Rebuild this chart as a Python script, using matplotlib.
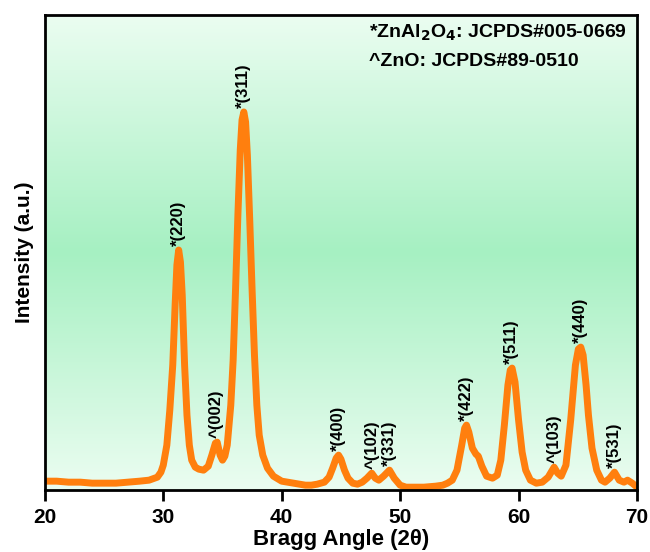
import numpy as np
import matplotlib.pyplot as plt
from matplotlib.colors import LinearSegmentedColormap

plt.rcParams["font.family"] = ["Liberation Sans", "DejaVu Sans"]

# ---- XRD pattern (2theta, intensity a.u.)
two_theta = [
    20.0, 21.0, 22.0, 23.0, 24.0, 25.0, 26.0, 27.0, 28.0, 28.8, 29.5, 29.8,
    30.0, 30.3, 30.55, 30.8, 31.0, 31.15, 31.3, 31.45, 31.6, 31.8, 32.0, 32.2,
    32.4, 32.7, 33.0, 33.4, 33.8, 34.1, 34.4, 34.55, 34.8, 35.0, 35.2, 35.4,
    35.7, 35.9, 36.1, 36.3, 36.5, 36.65, 36.8, 36.95, 37.1, 37.3, 37.5, 37.7,
    37.9, 38.1, 38.4, 38.8, 39.3, 40.0, 41.0, 42.0, 42.5, 43.0, 43.6, 44.0,
    44.3, 44.6, 44.8, 45.0, 45.3, 45.6, 46.0, 46.4, 46.8, 47.2, 47.6, 47.9,
    48.2, 48.6, 49.1, 49.5, 50.0, 50.5, 51.0, 52.0, 53.0, 53.6, 54.0, 54.4,
    54.8, 55.2, 55.45, 55.6, 55.8, 56.1, 56.4, 56.6, 56.9, 57.3, 57.8, 58.2,
    58.5, 58.8, 59.1, 59.3, 59.45, 59.7, 60.0, 60.3, 60.6, 61.0, 61.5, 62.0,
    62.5, 62.8, 63.0, 63.3, 63.6, 64.0, 64.4, 64.8, 65.05, 65.25, 65.45, 65.7,
    65.9, 66.2, 66.6, 67.0, 67.3, 67.7, 68.1, 68.5, 68.9, 69.2, 69.6, 70.0,
]
intensity = [
    9, 9, 8, 8, 7, 7, 7, 8, 9, 10, 13, 18,
    25, 45, 80, 125, 185, 225, 240, 228, 195, 125, 75, 45,
    30, 23, 21, 20, 24, 35, 47, 48, 35, 30, 34, 45,
    85, 130, 200, 275, 340, 370, 378, 368, 335, 270, 200, 135,
    85, 55, 35, 22, 14, 9, 7, 5, 5, 6, 8, 13,
    22, 32, 35, 31, 20, 12, 7, 6, 8, 12, 17, 12,
    10, 14, 20, 12, 5, 3, 3, 3, 4, 5, 7, 10,
    20, 45, 62, 65, 58, 42, 36, 34, 24, 14, 12, 15,
    30, 65, 105, 120, 122, 108, 70, 38, 20, 10, 7, 8,
    13, 19, 23, 17, 14, 25, 70, 125, 141, 143, 135, 105,
    75, 42, 20, 10, 8, 12, 18, 10, 8, 10, 7, 3,
]

# ---- peak assignments
peak_labels = ["*(220)", "^(002)", "*(311)", "*(400)", "^(102)", "*(331)",
               "*(422)", "*(511)", "^(103)", "*(440)", "*(531)"]
peak_pos = [31.3, 34.5, 36.8, 44.8, 47.6, 49.1, 55.6, 59.4, 63.0, 65.25, 68.1]
peak_int = [240, 48, 378, 35, 17, 20, 65, 122, 23, 143, 18]

x_ticks = [20, 30, 40, 50, 60, 70]

fig = plt.figure(figsize=(6.5, 5.52), dpi=100)
ax = fig.add_axes([0.069, 0.112, 0.911, 0.861])

# green gradient background
cmap = LinearSegmentedColormap.from_list("bg", ["#ebfdf1", "#a6f0c2", "#ebfdf1"])
ax.imshow(np.linspace(0, 1, 256).reshape(-1, 1), cmap=cmap, aspect="auto",
          extent=[20, 70, 0, 475], origin="lower", zorder=0)

ax.plot(two_theta, intensity, color="#ff7f0e", lw=5,
        solid_joinstyle="round", solid_capstyle="round", zorder=2)

for lab, px, py in zip(peak_labels, peak_pos, peak_int):
    ax.annotate(lab, (px, py), xytext=(0, 3), textcoords="offset points",
                rotation=90, ha="center", va="bottom", fontsize=12,
                fontweight="bold", zorder=3)

ax.text(0.547, 0.962, "*ZnAl$_\\mathbf{2}$O$_\\mathbf{4}$: JCPDS#005-0669",
        transform=ax.transAxes, fontsize=14, fontweight="bold", va="center")
ax.text(0.547, 0.901, "^ZnO: JCPDS#89-0510",
        transform=ax.transAxes, fontsize=14, fontweight="bold", va="center")

ax.set_xlim(20, 70)
ax.set_ylim(0, 475)
ax.set_xticks(x_ticks)
ax.set_yticks([])
ax.tick_params(axis="x", direction="out", length=8, width=2, labelsize=15, pad=5)
for lbl in ax.get_xticklabels():
    lbl.set_fontweight("bold")
for sp in ax.spines.values():
    sp.set_linewidth(2)

ax.set_xlabel("Bragg Angle (2θ)", fontsize=16, fontweight="bold", labelpad=1)
ax.set_ylabel("Intensity (a.u.)", fontsize=15, fontweight="bold", labelpad=8)

fig.savefig("out.png", dpi=100)
